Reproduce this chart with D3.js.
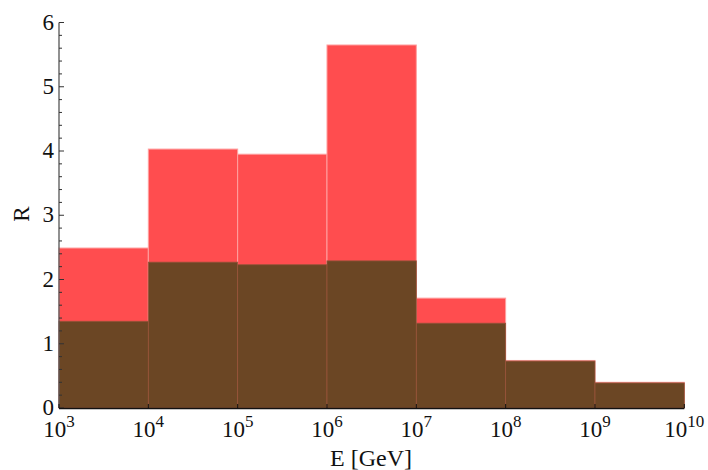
<!DOCTYPE html>
<html>
<head>
<meta charset="utf-8">
<script src="https://cdn.jsdelivr.net/npm/d3@7"></script>
<style>
  body{margin:0;background:#fff;}
  text{font-family:"Liberation Serif","Times New Roman",serif;fill:#111;}
</style>
</head>
<body>
<svg id="chart" width="708" height="470"></svg>
<script>
// bin edges in GeV
var edges=[1e3,1e4,1e5,1e6,1e7,1e8,1e9,1e10];
// red histogram (total) and brown histogram (overlay)
var redValues=[2.49,4.03,3.95,5.65,1.71,0.74,0.40];
var brownValues=[1.35,2.27,2.23,2.29,1.32,0.73,0.39];
var xTicks=[3,4,5,6,7,8,9,10];   // exponents
var yTicks=[0,1,2,3,4,5,6];

var svg=d3.select("#chart");
var x=d3.scaleLog().domain([1e3,1e10]).range([59,684.3]);
var y=d3.scaleLinear().domain([0,6]).range([408,22.5]);

function bins(vals){
    return vals.map(function(v,i){return {x0:edges[i],x1:edges[i+1],v:v};});
}

// red bars
svg.append("g").selectAll("rect")
    .data(bins(redValues))
    .enter().append("rect")
    .attr("x",function(d){return x(d.x0);})
    .attr("y",function(d){return y(d.v);})
    .attr("width",function(d){return x(d.x1)-x(d.x0);})
    .attr("height",function(d){return y(0)-y(d.v);})
    .attr("fill","#ff4d4f")
    .attr("stroke","#ffa0a0")
    .attr("stroke-width",1);

// brown bars on top
svg.append("g").selectAll("rect")
    .data(bins(brownValues))
    .enter().append("rect")
    .attr("x",function(d){return x(d.x0);})
    .attr("y",function(d){return y(d.v);})
    .attr("width",function(d){return x(d.x1)-x(d.x0);})
    .attr("height",function(d){return y(0)-y(d.v);})
    .attr("fill","#6b4624")
    .attr("stroke","#98543a")
    .attr("stroke-width",0.8);

// y axis: minor ticks every 0.2, major at integers, pointing inward
var yMinor=d3.range(0,6.001,0.2);
var gy=svg.append("g");
gy.append("line").attr("x1",59).attr("x2",59).attr("y1",y(6)).attr("y2",y(0))
    .attr("stroke","#555").attr("stroke-width",1.3);
gy.selectAll(".minor").data(yMinor).enter().append("line")
    .attr("x1",59)
    .attr("x2",function(d){return Math.abs(d-Math.round(d))<1e-6?64:62;})
    .attr("y1",function(d){return y(d);}).attr("y2",function(d){return y(d);})
    .attr("stroke","#333").attr("stroke-width",1);
gy.selectAll("text").data(yTicks).enter().append("text")
    .attr("x",54).attr("y",function(d){return y(d)+7;})
    .attr("text-anchor","end").attr("font-size","23px")
    .text(function(d){return d;});

// x axis: decades
var gx=svg.append("g");
gx.append("line").attr("x1",x(1e3)).attr("x2",x(1e10)).attr("y1",408.5).attr("y2",408.5)
    .attr("stroke","#111").attr("stroke-width",1.3);
gx.selectAll("line.t").data(xTicks).enter().append("line")
    .attr("class","t")
    .attr("x1",function(d){return x(Math.pow(10,d));})
    .attr("x2",function(d){return x(Math.pow(10,d));})
    .attr("y1",408).attr("y2",404)
    .attr("stroke","#111").attr("stroke-width",1);
var lab=gx.selectAll("text").data(xTicks).enter().append("text")
    .attr("x",function(d){return x(Math.pow(10,d));})
    .attr("y",437).attr("text-anchor","middle").attr("font-size","23px");
lab.append("tspan").text("10");
lab.append("tspan").attr("dy",-10).attr("font-size","17px").text(function(d){return d;});

// axis titles
svg.append("text").attr("x",371).attr("y",466).attr("text-anchor","middle")
    .attr("font-size","24px").text("E [GeV]");
svg.append("text").attr("transform","translate(29,214) rotate(-90)")
    .attr("text-anchor","middle").attr("font-size","23px").text("R");
</script>
</body>
</html>
